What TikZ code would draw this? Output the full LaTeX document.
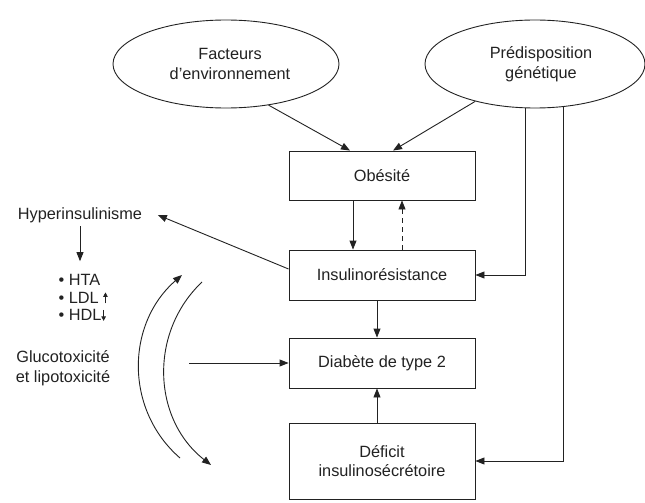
\documentclass[tikz,border=0pt]{standalone}
\usepackage{fontspec}
\setmainfont{Liberation Sans}
\usetikzlibrary{arrows.meta,shapes.geometric,calc}
\definecolor{ink}{HTML}{222222}
\tikzset{
  ell/.style={draw=ink, ellipse, inner sep=0pt, align=center},
  box/.style={draw=ink, rectangle, minimum width=186pt, align=center},
  arr/.style={-{Triangle[length=9pt,width=7pt]}},
  dashline/.style={dash pattern=on 5pt off 4pt},
}
\newcommand{\myup}{\tikz[baseline=0pt]{\draw[line width=0.8pt,-{Triangle[length=4.5pt,width=4.5pt]}] (0pt,0pt) -- (0pt,11pt);}}
\newcommand{\mydown}{\tikz[baseline=0pt]{\draw[line width=0.8pt,-{Triangle[length=4.5pt,width=4.5pt]}] (0pt,11pt) -- (0pt,0pt);}}
\begin{document}
\begin{tikzpicture}[x=1pt,y=-1pt, line width=0.9pt, color=ink, text=ink,
  font=\fontsize{16.3}{19.5}\selectfont]
\useasboundingbox (0,0) rectangle (645,503);
\fill[white] (0,0) rectangle (645,503);

% ellipses
\node[ell, minimum width=226pt, minimum height=88pt] (fe) at (226,64) {\hspace*{8pt}Facteurs\\\hspace*{8pt}d’environnement};
\node[ell, minimum width=220pt, minimum height=88pt] (pd) at (535,64) {\hspace*{12pt}Prédisposition\\\hspace*{12pt}génétique};

% boxes
\node[box, minimum height=49pt] (ob) at (382,175.5) {Obésité};
\node[box, minimum height=50pt] (ir) at (382,275) {Insulinorésistance};
\node[box, minimum height=50pt] (db) at (382,363) {Diabète de type 2};
\node[box, minimum height=76pt] (de) at (382,461) {Déficit\\insulinosécrétoire};

% left texts
\node (hy) at (80,215) {Hyperinsulinisme};
\node[anchor=west, align=left, font=\fontsize{16.3}{17.5}\selectfont] (bl) at (55,298) {• HTA\\• LDL \myup\\• HDL\mydown};
\node[align=center] (gt) at (63,368) {Glucotoxicité\\et lipotoxicité};

% connectors
\draw[arr] (fe.-44) -- ([xshift=-32pt]ob.north);
\draw[arr] (pd.212) -- ([xshift=11pt]ob.north);
\draw[arr] ([xshift=-29pt]ob.south) -- ([xshift=-29pt]ir.north);
\draw[arr, dashline] ([xshift=20pt]ir.north) -- ([xshift=20pt]ob.south);
\draw[arr] ([xshift=-10pt]pd.south) |- (ir.east);
\draw[arr] ([xshift=28pt,yshift=1.5pt]pd.south) |- (de.east);
\draw[arr] ([xshift=-5pt]ir.south) -- ([xshift=-5pt]db.north);
\draw[arr] ([xshift=-5pt]de.north) -- ([xshift=-5pt]db.south);
\draw[arr] ([yshift=6pt]ir.west) -- ([xshift=12pt]hy.east);
\draw[arr] (hy.south) -- ($(hy.south |- bl.north)+(0,-10)$);

\coordinate (gs) at (189,363);
\draw[arr] (gs) -- (db.west);

% curved arrows
\coordinate (a1s) at (180,458);
\coordinate (a1e) at (182,275);
\draw[arr] (a1s) .. controls (124.2,409.5) and (126.2,323.5) .. (a1e);
\coordinate (a2s) at (202,282);
\coordinate (a2e) at (211,465);
\draw[arr] (a2s) .. controls (148.4,332.9) and (152.7,419.6) .. (a2e);
\end{tikzpicture}
\end{document}
